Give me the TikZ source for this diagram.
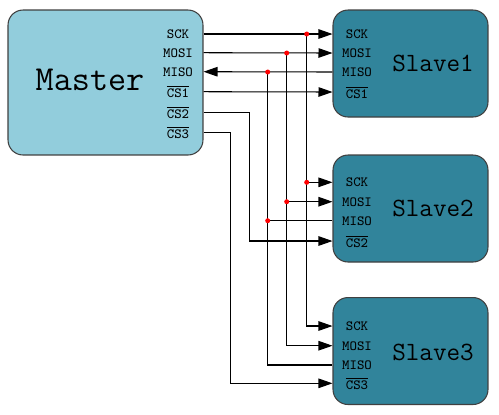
\documentclass[tikz,border=0pt]{standalone}
\usetikzlibrary{arrows.meta,positioning}

\definecolor{masterblue}{HTML}{92CDDC}
\definecolor{slaveteal}{HTML}{31849B}

\begin{document}
\begin{tikzpicture}[x=0.02cm,y=-0.02cm,line width=0.6pt,
    chip/.style={draw=black!75,rounded corners=0.3cm,inner sep=0pt},
    master/.style={chip,fill=masterblue,minimum width=3.9cm,minimum height=2.9cm},
    slave/.style={chip,fill=slaveteal,minimum width=3.1cm,minimum height=2.14cm},
    chipname/.style={font=\fontsize{15}{18}\selectfont\ttfamily,inner sep=0pt},
    pinlabel/.style={font=\fontsize{8}{9}\selectfont\ttfamily,inner sep=0pt},
    joint/.style={circle,fill=red,inner sep=0pt,minimum size=0.1cm},
    sig/.style={-{Triangle[length=0.28cm,width=0.19cm]}}]
  \useasboundingbox (0,0) rectangle (499,414);

  % master
  \node[master] (master) at (105.5,82.5) {};
  \node[chipname,font=\fontsize{20}{24}\selectfont\ttfamily] (mname) at (90,80) {Master};
  \node[pinlabel] (m-sck)  at (178,34)    {SCK};
  \node[pinlabel] (m-mosi) at (178,52.7)  {MOSI};
  \node[pinlabel] (m-miso) at (178,71.7)  {MISO};
  \node[pinlabel] (m-cs1)  at (178,91.7)  {$\overline{\mbox{CS1}}$};
  \node[pinlabel] (m-cs2)  at (178,112.7) {$\overline{\mbox{CS2}}$};
  \node[pinlabel] (m-cs3)  at (178,132.7) {$\overline{\mbox{CS3}}$};

  % slaves
  \node[slave] (s1) at (410.5,63.5) {};
  \node[chipname] (s1name) at (433,63) {Slave1};
  \node[pinlabel] (s1-sck)  at (357,34)   {SCK};
  \node[pinlabel] (s1-mosi) at (357,53)   {MOSI};
  \node[pinlabel] (s1-miso) at (357,72)   {MISO};
  \node[pinlabel] (s1-cs)   at (357,92)   {$\overline{\mbox{CS1}}$};

  \node[slave] (s2) at (410.5,208.5) {};
  \node[chipname] (s2name) at (433,208) {Slave2};
  \node[pinlabel] (s2-sck)  at (357,182.3) {SCK};
  \node[pinlabel] (s2-mosi) at (357,201.7) {MOSI};
  \node[pinlabel] (s2-miso) at (357,220.7) {MISO};
  \node[pinlabel] (s2-cs)   at (357,241)   {$\overline{\mbox{CS2}}$};

  \node[slave] (s3) at (410.5,351) {};
  \node[chipname] (s3name) at (433,352) {Slave3};
  \node[pinlabel] (s3-sck)  at (357,326)   {SCK};
  \node[pinlabel] (s3-mosi) at (357,345.7) {MOSI};
  \node[pinlabel] (s3-miso) at (357,365)   {MISO};
  \node[pinlabel] (s3-cs)   at (357,383.3) {$\overline{\mbox{CS3}}$};

  % bus junctions and bends
  \coordinate (j1-sck)  at (306.7,34);
  \coordinate (j1-mosi) at (286.7,53);
  \coordinate (j1-miso) at (267.7,72);
  \coordinate (j2-sck)  at (306.7,182.3);
  \coordinate (j2-mosi) at (286.7,201.7);
  \coordinate (j2-miso) at (267.7,220.7);
  \coordinate (cs2-bend) at (249.3,112.7);
  \coordinate (cs3-bend) at (230.7,132.7);

  % SCK
  \draw[sig] (master.east |- m-sck) -- (s1.west |- s1-sck);
  \draw[sig] (j2-sck) -- (s2.west |- s2-sck);
  \draw[sig] (j1-sck) -- (j2-sck) |- (s3.west |- s3-sck);
  % MOSI
  \draw[sig] (master.east |- m-mosi) -- (s1.west |- s1-mosi);
  \draw[sig] (j2-mosi) -- (s2.west |- s2-mosi);
  \draw[sig] (j1-mosi) -- (j2-mosi) |- (s3.west |- s3-mosi);
  % MISO
  \draw[sig] (s1.west |- s1-miso) -- (master.east |- m-miso);
  \draw (s2.west |- s2-miso) -- (j2-miso);
  \draw (j1-miso) -- (j2-miso) |- (s3.west |- s3-miso);
  % chip selects
  \draw[sig] (master.east |- m-cs1) -- (s1.west |- s1-cs);
  \draw[sig] (master.east |- m-cs2) -- (cs2-bend) |- (s2.west |- s2-cs);
  \draw[sig] (master.east |- m-cs3) -- (cs3-bend) |- (s3.west |- s3-cs);

  \foreach \j in {j1-sck,j1-mosi,j1-miso,j2-sck,j2-mosi,j2-miso}
    \node[joint] (d-\j) at (\j) {};
\end{tikzpicture}
\end{document}
